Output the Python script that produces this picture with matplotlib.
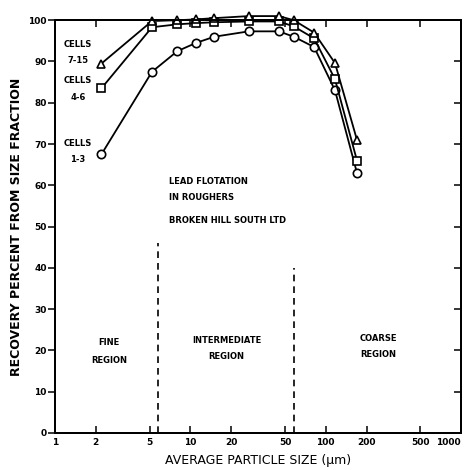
import matplotlib
matplotlib.use("Agg")
import matplotlib.pyplot as plt
import numpy as np

# --- data ---
sizes = [2.2, 5.2, 8, 11, 15, 27, 45, 58, 82, 117, 170]
cells_1_3 = [67.5, 87.5, 92.5, 94.5, 96.0, 97.3, 97.3, 96.0, 93.5, 83.0, 63.0]
cells_4_6 = [83.5, 98.3, 99.0, 99.3, 99.5, 99.7, 99.7, 98.5, 95.6, 85.7, 66.0]
cells_7_15 = [89.5, 99.8, 100.0, 100.2, 100.5, 101.0, 101.0, 100.0, 97.0, 89.6, 71.0]
region_bounds = [5.8, 58]
region_bound_tops = [46, 40]
x_ticks = [1, 2, 5, 10, 20, 50, 100, 200, 500, 1000]
x_tick_labels = ["1", "2", "5", "10", "20", "50", "100", "200", "500", "1000"]
y_ticks = [0, 10, 20, 30, 40, 50, 60, 70, 80, 90, 100]

fig = plt.figure(figsize=(4.71, 4.70), dpi=100)
ax = fig.add_axes([0.117, 0.079, 0.862, 0.878])

lw = 1.3
ax.plot(sizes, cells_1_3, color="black", lw=lw, marker="o", ms=6,
        mfc="white", mec="black", mew=1.2, clip_on=False, zorder=3)
ax.plot(sizes, cells_4_6, color="black", lw=lw, marker="s", ms=5.8,
        mfc="white", mec="black", mew=1.2, clip_on=False, zorder=3)
ax.plot(sizes, cells_7_15, color="black", lw=lw, marker="^", ms=6.3,
        mfc="white", mec="black", mew=1.2, clip_on=False, zorder=3)

for xb, yt in zip(region_bounds, region_bound_tops):
    ax.plot([xb, xb], [0, yt], color="black", lw=1.2, ls=(0, (4, 3)))

ax.set_xscale("log")
ax.set_xlim(1, 1000)
ax.set_ylim(0, 100)
ax.set_xticks(x_ticks)
ax.set_xticklabels(x_tick_labels)
ax.xaxis.set_minor_locator(matplotlib.ticker.NullLocator())
ax.set_yticks(y_ticks)
ax.set_yticklabels([str(v) for v in y_ticks])

ax.tick_params(axis="x", direction="in", length=5, width=1.1, top=True,
               labelsize=6.5, pad=4)
ax.tick_params(axis="y", direction="out", length=5, width=1.1,
               labelsize=6.5, pad=1)
for lab in ax.get_xticklabels() + ax.get_yticklabels():
    lab.set_fontweight("bold")
last = ax.get_xticklabels()[-1]
last.set_horizontalalignment("right")
last.set_x(1000)
ax2 = ax.twinx()
ax2.set_ylim(0, 100)
ax2.set_yticks(y_ticks)
ax2.set_yticklabels([])
ax2.tick_params(axis="y", direction="in", length=5, width=1.1)
for a in (ax, ax2):
    for s in a.spines.values():
        s.set_linewidth(1.4)

tk = dict(fontsize=6, fontweight="bold", ha="center", va="center")
ax.text(1.47, 94.0, "CELLS", **tk)
ax.text(1.47, 90.3, "7-15", **tk)
ax.text(1.47, 85.5, "CELLS", **tk)
ax.text(1.47, 81.2, "4-6", **tk)
ax.text(1.47, 70.2, "CELLS", **tk)
ax.text(1.47, 66.3, "1-3", **tk)

ax.text(6.9, 60.8, "LEAD FLOTATION", fontsize=6, fontweight="bold", ha="left", va="center")
ax.text(6.9, 57.0, "IN ROUGHERS", fontsize=6, fontweight="bold", ha="left", va="center")
ax.text(6.9, 51.5, "BROKEN HILL SOUTH LTD", fontsize=6, fontweight="bold", ha="left", va="center")

ax.text(2.5, 21.8, "FINE", **tk)
ax.text(2.5, 17.6, "REGION", **tk)
ax.text(18.5, 22.3, "INTERMEDIATE", **tk)
ax.text(18.5, 18.4, "REGION", **tk)
ax.text(245, 22.8, "COARSE", **tk)
ax.text(245, 18.9, "REGION", **tk)

ax.set_xlabel("AVERAGE PARTICLE SIZE (\u00b5m)", fontsize=9, labelpad=5)
ax.set_ylabel("RECOVERY PERCENT FROM SIZE FRACTION", fontsize=9, fontweight="bold", labelpad=4)

fig.savefig("out.png", dpi=100)
